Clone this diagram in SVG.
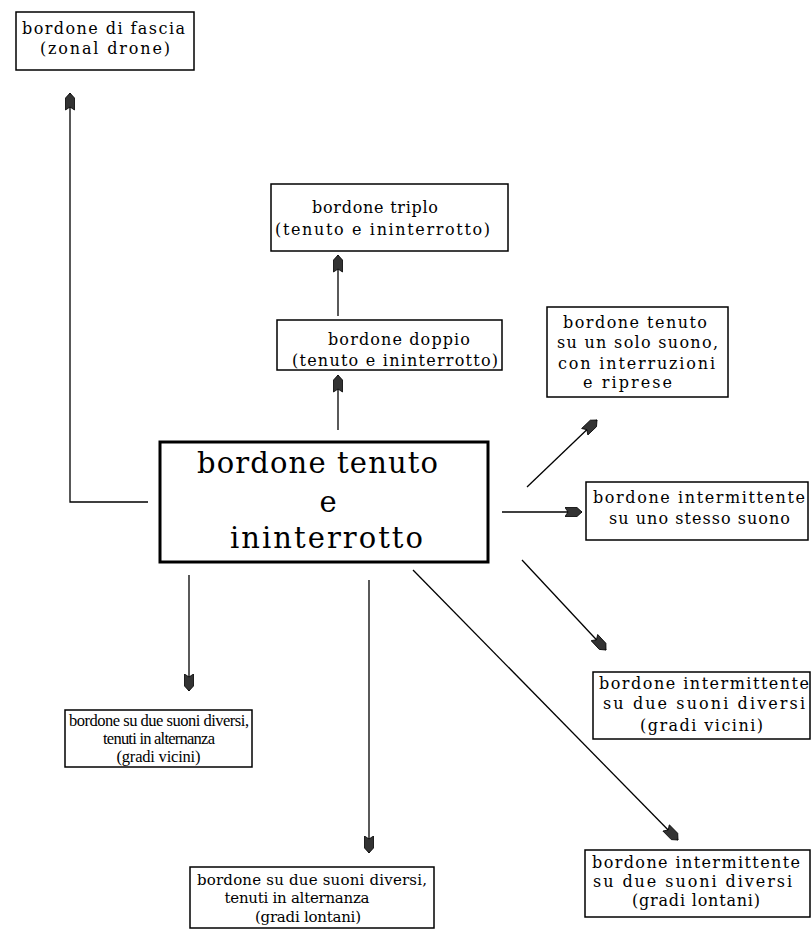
<svg xmlns="http://www.w3.org/2000/svg" width="812" height="938" viewBox="0 0 812 938">
<defs>
<marker id="ah" markerUnits="userSpaceOnUse" markerWidth="20" markerHeight="12" viewBox="-17 -6 19 12" refX="0" refY="0" orient="auto">
<path d="M0,0 L-5,-4.5 L-17,-4.5 L-14,0 L-17,4.5 L-5,4.5 Z" fill="#333" stroke="#000" stroke-width="0.8"/>
</marker>
<style>
.box{fill:#fff;stroke:#000;stroke-width:1.5}
.main{fill:#fff;stroke:#000;stroke-width:3}
.t{font-family:"DejaVu Serif","Liberation Serif",serif;font-size:16px;fill:#000;text-anchor:middle}
.ts{font-family:"Liberation Serif","DejaVu Serif",serif;font-size:16.5px;fill:#000;text-anchor:middle}
.tb{font-family:"DejaVu Serif","Liberation Serif",serif;font-size:15px;fill:#000;text-anchor:middle}
.tm{font-family:"DejaVu Serif","Liberation Serif",serif;font-size:29px;fill:#000;text-anchor:middle}
.c{fill:none;stroke:#000;stroke-width:1.3;marker-end:url(#ah)}
</style>
</defs>
<rect width="812" height="938" fill="#fff"/>
<g id="connectors">
<path class="c" d="M148,502 L70,502 L70,93"/>
<path class="c" d="M338,430 L338,375"/>
<path class="c" d="M338,316 L338,255"/>
<path class="c" d="M527,487 L597,420"/>
<path class="c" d="M502,512 L582,512"/>
<path class="c" d="M522,560 L606,650"/>
<path class="c" d="M413,570 L678,840"/>
<path class="c" d="M189,575 L189,691"/>
<path class="c" d="M369,580 L369,853"/>
</g>
<g id="fascia">
<rect class="box" x="16" y="12" width="178" height="58"/>
<text class="t" x="103.5" y="34" textLength="163" lengthAdjust="spacing">bordone di fascia</text>
<text class="t" x="105" y="54" textLength="130" lengthAdjust="spacing">(zonal drone)</text>
</g>
<g id="triplo">
<rect class="box" x="271" y="184" width="237" height="67"/>
<text class="t" x="375" y="213" textLength="126" lengthAdjust="spacing">bordone triplo</text>
<text class="t" x="382.5" y="235" textLength="215" lengthAdjust="spacing">(tenuto e ininterrotto)</text>
</g>
<g id="doppio">
<rect class="box" x="277" y="320" width="225" height="50"/>
<text class="t" x="399" y="345" textLength="142" lengthAdjust="spacing">bordone doppio</text>
<text class="t" x="395" y="366" textLength="206" lengthAdjust="spacing">(tenuto e ininterrotto)</text>
</g>
<g id="main">
<rect class="main" x="160" y="442" width="328" height="120"/>
<text class="tm" x="317.5" y="473" textLength="241" lengthAdjust="spacing">bordone tenuto</text>
<text class="tm" x="328" y="512">e</text>
<text class="tm" x="326.5" y="548" textLength="193" lengthAdjust="spacing">ininterrotto</text>
</g>
<g id="tenuto-interruzioni">
<rect class="box" x="547" y="307" width="181" height="90"/>
<text class="t" x="635" y="328" textLength="144" lengthAdjust="spacing">bordone tenuto</text>
<text class="t" x="637.5" y="348" textLength="161" lengthAdjust="spacing">su un solo suono,</text>
<text class="t" x="636.5" y="369" textLength="157" lengthAdjust="spacing">con interruzioni</text>
<text class="t" x="627.5" y="388" textLength="89" lengthAdjust="spacing">e riprese</text>
</g>
<g id="intermittente-stesso">
<rect class="box" x="586" y="482" width="222" height="58"/>
<text class="t" x="699" y="503" textLength="212" lengthAdjust="spacing">bordone intermittente</text>
<text class="t" x="699.5" y="524" textLength="181" lengthAdjust="spacing">su uno stesso suono</text>
</g>
<g id="intermittente-vicini">
<rect class="box" x="593" y="672" width="217" height="67"/>
<text class="t" x="704" y="689" textLength="210" lengthAdjust="spacing">bordone intermittente</text>
<text class="t" x="704" y="709" textLength="202" lengthAdjust="spacing">su due suoni diversi</text>
<text class="t" x="701.5" y="731" textLength="123" lengthAdjust="spacing">(gradi vicini)</text>
</g>
<g id="intermittente-lontani">
<rect class="box" x="585" y="850" width="225" height="67"/>
<text class="t" x="696" y="868" textLength="208" lengthAdjust="spacing">bordone intermittente</text>
<text class="t" x="692.5" y="887" textLength="199" lengthAdjust="spacing">su due suoni diversi</text>
<text class="t" x="696" y="906" textLength="128" lengthAdjust="spacing">(gradi lontani)</text>
</g>
<g id="alternanza-vicini">
<rect class="box" x="65" y="710" width="187" height="57"/>
<text class="ts" x="159" y="726" textLength="180" lengthAdjust="spacing">bordone su due suoni diversi,</text>
<text class="ts" x="159" y="744" textLength="112" lengthAdjust="spacing">tenuti in alternanza</text>
<text class="ts" x="158.5" y="762" textLength="84" lengthAdjust="spacing">(gradi vicini)</text>
</g>
<g id="alternanza-lontani">
<rect class="box" x="190" y="867" width="244" height="61"/>
<text class="tb" x="312" y="885" textLength="230" lengthAdjust="spacing">bordone su due suoni diversi,</text>
<text class="tb" x="297" y="903" textLength="145" lengthAdjust="spacing">tenuti in alternanza</text>
<text class="tb" x="308" y="922" textLength="106" lengthAdjust="spacing">(gradi lontani)</text>
</g>
</svg>
